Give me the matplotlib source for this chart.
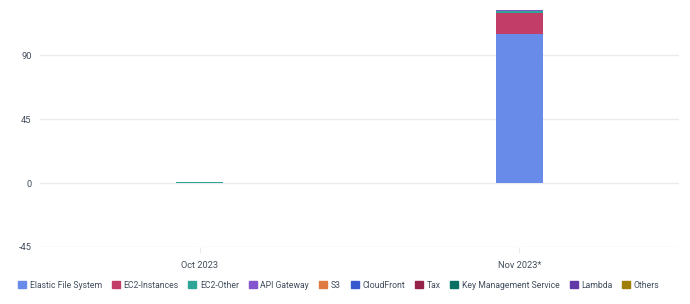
import matplotlib

matplotlib.use("Agg")
import matplotlib.pyplot as plt  # noqa: E402
from matplotlib.patches import Patch  # noqa: E402

plt.rcParams["font.family"] = ["Roboto", "DejaVu Sans"]

months = ["Oct 2023", "Nov 2023*"]
services = ["Elastic File System", "EC2-Instances", "EC2-Other", "API Gateway", "S3",
            "CloudFront", "Tax", "Key Management Service", "Lambda", "Others"]
colors = ["#688ae8", "#c33d69", "#2ea597", "#8456ce", "#e07941",
          "#3759ce", "#962249", "#096f64", "#6237a7", "#a07e0a"]
costs = {
    "Elastic File System": [0.0, 104.8],
    "EC2-Instances": [0.0, 14.8],
    "EC2-Other": [0.8, 1.4],
    "API Gateway": [0.0, 0.7],
    "S3": [0.0, 0.0],
    "CloudFront": [0.0, 0.0],
    "Tax": [0.0, 0.0],
    "Key Management Service": [0.0, 0.0],
    "Lambda": [0.0, 0.0],
    "Others": [0.0, 0.0],
}
yticks = [-45, 0, 45, 90]

fig = plt.figure(figsize=(6.9, 3.04), dpi=100)
ax = fig.add_axes([40 / 690, 57 / 304, 639 / 690, 247 / 304])

x = list(range(len(months)))
bottom = [0.0] * len(months)
for name, c in zip(services, colors):
    vals = costs[name]
    ax.bar(x, vals, width=0.148, bottom=bottom, color=c, linewidth=0)
    bottom = [b + v for b, v in zip(bottom, vals)]

ax.set_xlim(-0.5, 1.5)
ax.set_ylim(-45, 128.7)
ax.set_yticks(yticks)
ax.set_yticklabels([str(t) for t in yticks])
ax.set_xticks(x)
ax.set_xticklabels(months)
ax.grid(axis="y", color="#e9ebed", lw=1)
ax.set_axisbelow(True)
for s in ax.spines.values():
    s.set_visible(False)
ax.tick_params(axis="y", length=0, pad=6, labelsize=6.7, labelcolor="#414d5c")
ax.tick_params(axis="x", length=4, color="#e9ebed", pad=6, labelsize=6.7, labelcolor="#414d5c")

handles = [Patch(facecolor=c, edgecolor=c) for c in colors]
fig.legend(handles, services, loc="center left", bbox_to_anchor=(18 / 690, 19 / 304),
           ncol=len(services), frameon=False, fontsize=6.2, handlelength=0.93, handleheight=0.93,
           handletextpad=0.42, columnspacing=1.15, labelcolor="#414d5c", borderaxespad=0,
           borderpad=0)

fig.savefig("out.png", dpi=100)
